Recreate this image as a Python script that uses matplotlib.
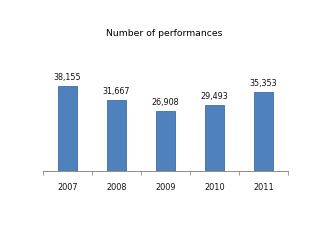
import numpy as np
import matplotlib.pyplot as plt

years = ["2007", "2008", "2009", "2010", "2011"]
performances = [38155, 31667, 26908, 29493, 35353]

plt.rcParams['font.family'] = ['DejaVu Sans']

fig = plt.figure(figsize=(3.3, 2.4), dpi=100)
ax = fig.add_axes([43 / 330, 69.3 / 240, 245 / 330, 100 / 240])

x = np.arange(len(years))
ax.bar(x, performances, width=0.4, color="#4F81BD", edgecolor="#3E6DA6", linewidth=0.6, zorder=3)

for xi, v in zip(x, performances):
    ax.annotate(f"{v:,}", (xi, v), xytext=(0, 3), textcoords="offset points",
                ha="center", va="bottom", fontsize=5.8, color="#111111")

ax.set_xlim(-0.5, len(years) - 0.5)
ax.set_ylim(0, 45000)
ax.set_xticks(x)
ax.set_xticklabels(years, fontsize=5.9, color="#111111")
ax.set_xticks(np.arange(-0.5, len(years)), minor=True)
ax.tick_params(axis="x", which="major", length=0, pad=8.5)
ax.tick_params(axis="x", which="minor", length=3, width=0.6, color="#8c8c8c")
ax.set_yticks([])

for s in ["top", "right", "left"]:
    ax.spines[s].set_visible(False)
ax.spines["bottom"].set_color("#8c8c8c")
ax.spines["bottom"].set_linewidth(0.7)

fig.text(164 / 330, 1 - 34 / 240, "Number of performances", ha="center", va="center",
         fontsize=6.7, color="#000000")

fig.savefig("out.png", dpi=100)
